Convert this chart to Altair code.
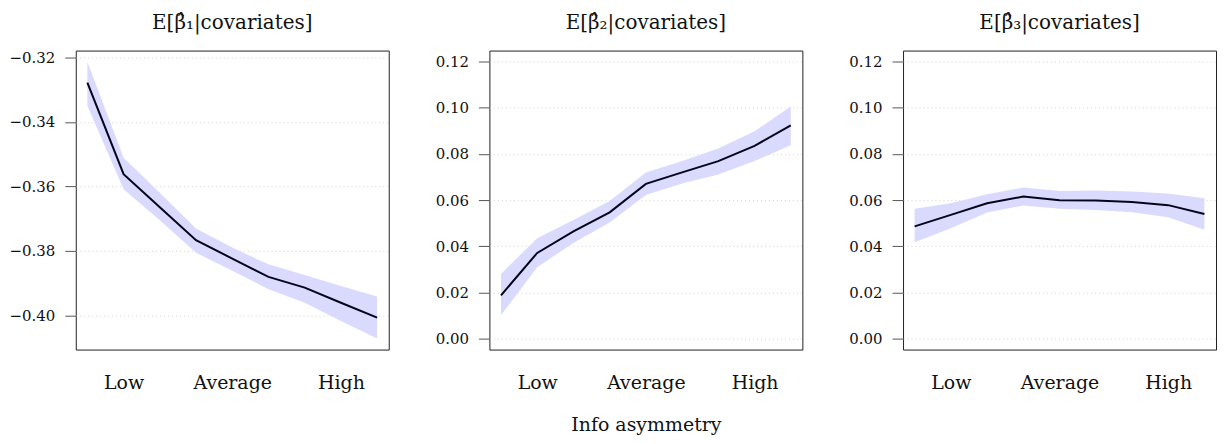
import altair as alt
import pandas as pd

x_pos = [1, 2, 3, 4, 5, 6, 7, 8, 9]
tick_pos = [2, 5, 8]
tick_labels = ["Low", "Average", "High"]

titles = ["E[β̂₁|covariates]", "E[β̂₂|covariates]", "E[β̂₃|covariates]"]
x_title = "Info asymmetry"

b1_mean = [-0.3278, -0.3562, -0.3665, -0.3767, -0.3824, -0.3881, -0.3914, -0.3961, -0.4007]
b1_upper = [-0.3213, -0.3511, -0.3620, -0.3731, -0.3790, -0.3842, -0.3875, -0.3909, -0.3942]
b1_lower = [-0.3350, -0.3609, -0.3705, -0.3806, -0.3862, -0.3919, -0.3961, -0.4018, -0.4072]

b2_mean = [0.0187, 0.0371, 0.0464, 0.0547, 0.0670, 0.0720, 0.0769, 0.0835, 0.0924]
b2_upper = [0.0280, 0.0435, 0.0514, 0.0596, 0.0720, 0.0769, 0.0823, 0.0898, 0.1006]
b2_lower = [0.0101, 0.0309, 0.0414, 0.0503, 0.0622, 0.0672, 0.0711, 0.0769, 0.0838]

b3_mean = [0.0486, 0.0536, 0.0586, 0.0615, 0.0599, 0.0598, 0.0592, 0.0578, 0.0540]
b3_upper = [0.0562, 0.0586, 0.0625, 0.0654, 0.0639, 0.0641, 0.0637, 0.0629, 0.0608]
b3_lower = [0.0417, 0.0478, 0.0546, 0.0576, 0.0562, 0.0557, 0.0547, 0.0526, 0.0471]

y1_ticks = [-0.40, -0.38, -0.36, -0.34, -0.32]
y23_ticks = [0.00, 0.02, 0.04, 0.06, 0.08, 0.10, 0.12]
y23_lim = [0.0, 0.12]

FONT = "DejaVu Serif"
BAND = "#dadafe"


def ext(lo, hi):
    r = hi - lo
    return [lo - 0.04 * r, hi + 0.04 * r]


def label_expr():
    parts = []
    for p, l in zip(tick_pos, tick_labels):
        parts.append(f"datum.value == {p} ? '{l}' : ")
    return "".join(parts) + "''"


def panel(title, mean, lo, hi, ydom, yticks, xtitle):
    df = pd.DataFrame({"x": x_pos, "m": mean, "lo": lo, "hi": hi})
    xd = ext(min(x_pos), max(x_pos))
    xaxis_kw = dict(
        values=tick_pos, labelExpr=label_expr(), ticks=False, domain=False,
        grid=False, labelFontSize=19, labelPadding=24, labelFont=FONT,
        labelColor="#111",
    )
    if xtitle:
        xaxis_kw.update(title=xtitle, titleFontSize=19, titleFont=FONT,
                        titleFontWeight="normal", titlePadding=23, titleColor="#111")
    else:
        xaxis_kw.update(title=None)
    xenc = alt.X("x:Q", scale=alt.Scale(domain=xd, nice=False, zero=False),
                 axis=alt.Axis(**xaxis_kw))
    yaxis = alt.Axis(values=yticks, format=".2f", title=None, domain=False,
                     tickSize=11, tickColor="#555", tickWidth=1,
                     labelPadding=10, labelFontSize=15, labelFont=FONT,
                     labelColor="#111", grid=True, gridDash=[1, 3],
                     gridColor="#c8c8c8", gridWidth=0.8,
                     minExtent=67, maxExtent=67)
    yscale = alt.Scale(domain=ydom, nice=False, zero=False)
    base = alt.Chart(df)
    band = base.mark_area(color=BAND, opacity=1).encode(
        x=xenc, y=alt.Y("lo:Q", scale=yscale, axis=yaxis), y2="hi:Q")
    line = base.mark_line(color="#05051a", strokeWidth=2).encode(
        x=xenc, y=alt.Y("m:Q", scale=yscale, axis=yaxis))
    return alt.layer(band, line).properties(
        width=314, height=300,
        title=alt.TitleParams(text=title, fontSize=20, font=FONT,
                              fontWeight="normal", offset=18, color="#111"))


p1 = panel(titles[0], b1_mean, b1_lower, b1_upper,
           ext(min(b1_lower), max(b1_upper)), y1_ticks, None)
p2 = panel(titles[1], b2_mean, b2_lower, b2_upper,
           ext(*y23_lim), y23_ticks, x_title)
p3 = panel(titles[2], b3_mean, b3_lower, b3_upper,
           ext(*y23_lim), y23_ticks, None)

chart = alt.hconcat(p1, p2, p3, spacing=32).configure_view(
    stroke="#222", strokeWidth=1
).properties(padding={"left": 0, "top": 3, "right": 0, "bottom": 0})

chart.save("out.html", embed_options={"renderer": "svg", "actions": False})
